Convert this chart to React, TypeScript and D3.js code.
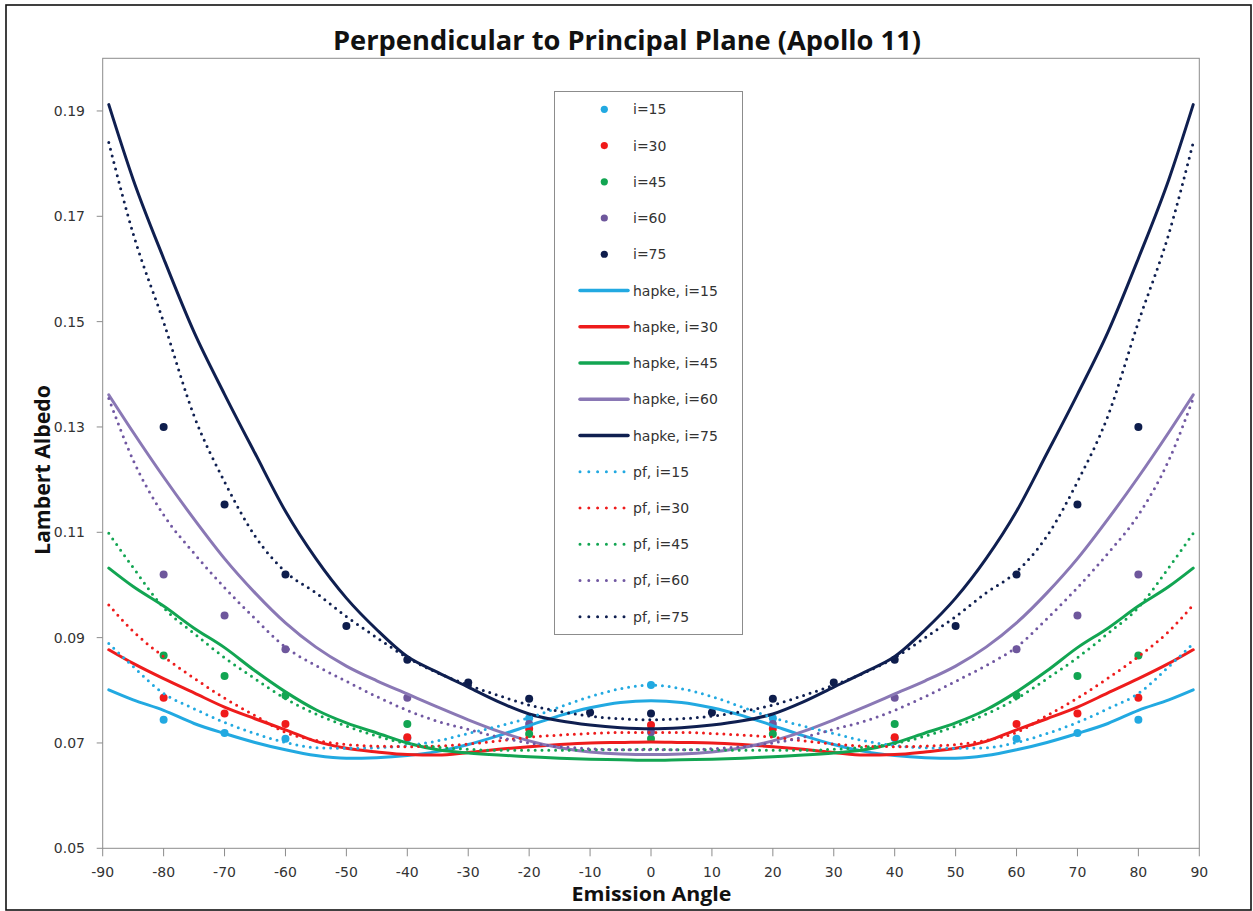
import React from "react";
import * as d3 from "d3";

// ---------- data ----------
const incidences = ["15", "30", "45", "60", "75"];

const curveAngles = [-89, -85, -80, -75, -70, -65, -60, -55, -50, -45, -40, -35, -30, -25, -20, -15, -10, -5, 0,
  5, 10, 15, 20, 25, 30, 35, 40, 45, 50, 55, 60, 65, 70, 75, 80, 85, 89];

const hapke15 = [0.0801, 0.0782, 0.0762, 0.0737, 0.0718, 0.0701, 0.0687, 0.0676, 0.0671, 0.0672, 0.0676, 0.0684, 0.0697, 0.0714, 0.0733, 0.0752, 0.0767, 0.0777, 0.0780,
  0.0777, 0.0767, 0.0752, 0.0733, 0.0714, 0.0697, 0.0684, 0.0676, 0.0672, 0.0671, 0.0676, 0.0687, 0.0701, 0.0718, 0.0737, 0.0762, 0.0782, 0.0801];
const hapke30 = [0.0877, 0.0851, 0.0822, 0.0795, 0.0768, 0.0746, 0.0725, 0.0703, 0.0690, 0.0683, 0.0678, 0.0677, 0.0682, 0.0688, 0.0693, 0.0697, 0.0700, 0.0701, 0.0702,
  0.0701, 0.0700, 0.0697, 0.0693, 0.0688, 0.0682, 0.0677, 0.0678, 0.0683, 0.0690, 0.0703, 0.0725, 0.0746, 0.0768, 0.0795, 0.0822, 0.0851, 0.0877];
const hapke45 = [0.1032, 0.0997, 0.0960, 0.0918, 0.0881, 0.0837, 0.0797, 0.0763, 0.0738, 0.0719, 0.0700, 0.0687, 0.0681, 0.0677, 0.0674, 0.0671, 0.0669, 0.0668, 0.0667,
  0.0668, 0.0669, 0.0671, 0.0674, 0.0677, 0.0681, 0.0687, 0.0700, 0.0719, 0.0738, 0.0763, 0.0797, 0.0837, 0.0881, 0.0918, 0.0960, 0.0997, 0.1032];
const hapke60 = [0.1361, 0.1290, 0.1205, 0.1125, 0.1050, 0.0985, 0.0928, 0.0882, 0.0846, 0.0818, 0.0793, 0.0768, 0.0744, 0.0722, 0.0704, 0.0691, 0.0683, 0.0679, 0.0678,
  0.0679, 0.0683, 0.0691, 0.0704, 0.0722, 0.0744, 0.0768, 0.0793, 0.0818, 0.0846, 0.0882, 0.0928, 0.0985, 0.1050, 0.1125, 0.1205, 0.1290, 0.1361];
const hapke75 = [0.1912, 0.1770, 0.1620, 0.1480, 0.1362, 0.1250, 0.1140, 0.1050, 0.0975, 0.0915, 0.0864, 0.0834, 0.0806, 0.0778, 0.0755, 0.0742, 0.0734, 0.0729, 0.0727,
  0.0729, 0.0734, 0.0742, 0.0755, 0.0778, 0.0806, 0.0834, 0.0864, 0.0915, 0.0975, 0.1050, 0.1140, 0.1250, 0.1362, 0.1480, 0.1620, 0.1770, 0.1912];

const pf15 = [0.0889, 0.0845, 0.0794, 0.0765, 0.0739, 0.0718, 0.0701, 0.0691, 0.0690, 0.0691, 0.0695, 0.0704, 0.0718, 0.0732, 0.0748, 0.0768, 0.0788, 0.0803, 0.0810,
  0.0803, 0.0788, 0.0768, 0.0748, 0.0732, 0.0718, 0.0704, 0.0695, 0.0691, 0.0690, 0.0691, 0.0701, 0.0718, 0.0739, 0.0765, 0.0794, 0.0845, 0.0889];
const pf30 = [0.0962, 0.0912, 0.0864, 0.0823, 0.0785, 0.0752, 0.0720, 0.0705, 0.0697, 0.0694, 0.0693, 0.0694, 0.0698, 0.0704, 0.0711, 0.0715, 0.0718, 0.0720, 0.0720,
  0.0720, 0.0718, 0.0715, 0.0711, 0.0704, 0.0698, 0.0694, 0.0693, 0.0694, 0.0697, 0.0705, 0.0720, 0.0752, 0.0785, 0.0823, 0.0864, 0.0912, 0.0962];
const pf45 = [0.1098, 0.1033, 0.0957, 0.0908, 0.0862, 0.0822, 0.0784, 0.0755, 0.0732, 0.0713, 0.0699, 0.0692, 0.0688, 0.0686, 0.0686, 0.0686, 0.0687, 0.0687, 0.0688,
  0.0687, 0.0687, 0.0686, 0.0686, 0.0686, 0.0688, 0.0692, 0.0699, 0.0713, 0.0732, 0.0755, 0.0784, 0.0822, 0.0862, 0.0908, 0.0957, 0.1033, 0.1098];
const pf60 = [0.1354, 0.1237, 0.1133, 0.1060, 0.0995, 0.0936, 0.0882, 0.0847, 0.0817, 0.0788, 0.0762, 0.0741, 0.0726, 0.0711, 0.0700, 0.0693, 0.0689, 0.0687, 0.0687,
  0.0687, 0.0689, 0.0693, 0.0700, 0.0711, 0.0726, 0.0741, 0.0762, 0.0788, 0.0817, 0.0847, 0.0882, 0.0936, 0.0995, 0.1060, 0.1133, 0.1237, 0.1354];
const pf75 = [0.1840, 0.1667, 0.1499, 0.1321, 0.1196, 0.1093, 0.1025, 0.0985, 0.0940, 0.0900, 0.0862, 0.0833, 0.0810, 0.0790, 0.0772, 0.0760, 0.0751, 0.0746, 0.0744,
  0.0746, 0.0751, 0.0760, 0.0772, 0.0790, 0.0810, 0.0833, 0.0862, 0.0900, 0.0940, 0.0985, 0.1025, 0.1093, 0.1196, 0.1321, 0.1499, 0.1667, 0.1840];

const pointAngles = [-80, -70, -60, -40, -20, 0, 20, 40, 60, 70, 80];
const obs15 = [0.0744, 0.0719, 0.0708, 0.0709, 0.0747, 0.0810, 0.0747, 0.0709, 0.0708, 0.0719, 0.0744];
const obs30 = [0.0786, 0.0756, 0.0736, 0.0711, 0.0727, 0.0734, 0.0727, 0.0711, 0.0736, 0.0756, 0.0786];
const obs45 = [0.0866, 0.0827, 0.0790, 0.0736, 0.0717, 0.0708, 0.0717, 0.0736, 0.0790, 0.0827, 0.0866];
const obs60 = [0.1020, 0.0942, 0.0878, 0.0786, 0.0736, 0.0721, 0.0736, 0.0786, 0.0878, 0.0942, 0.1020];
const pointAngles75 = [-80, -70, -60, -50, -40, -30, -20, -10, 0, 10, 20, 30, 40, 50, 60, 70, 80];
const obs75 = [0.1300, 0.1153, 0.1020, 0.0922, 0.0858, 0.0815, 0.0784, 0.0758, 0.0756, 0.0758, 0.0784, 0.0815, 0.0858, 0.0922, 0.1020, 0.1153, 0.1300];

const xTicks = [-90, -80, -70, -60, -50, -40, -30, -20, -10, 0, 10, 20, 30, 40, 50, 60, 70, 80, 90];
const yTicks = [0.05, 0.07, 0.09, 0.11, 0.13, 0.15, 0.17, 0.19];

const pointColors = ["#22A9E1", "#F01A1A", "#12A552", "#6E579C", "#0E1D4C"];
const hapkeColors = ["#22A9E1", "#EE1C1C", "#12A552", "#8A78B5", "#0F1F50"];
const pfColors = ["#22A9E1", "#EE1C1C", "#12A552", "#7158A2", "#0F1F50"];

// ---------- layout ----------
const W = 1253, H = 911;
const plot = { left: 102.7, right: 1199.3, top: 58.3, bottom: 848.3 };
const x = d3.scaleLinear().domain([-90, 90]).range([plot.left, plot.right]);
const y = d3.scaleLinear().domain([0.05, 0.2]).range([plot.bottom, plot.top]);

const line = d3.line<[number, number]>()
  .x((d) => x(d[0]))
  .y((d) => y(d[1]))
  .curve(d3.curveMonotoneX);

const hapkeSeries = [hapke15, hapke30, hapke45, hapke60, hapke75];
const pfSeries = [pf15, pf30, pf45, pf60, pf75];
const obsSeries = [
  { ang: pointAngles, v: obs15 },
  { ang: pointAngles, v: obs30 },
  { ang: pointAngles, v: obs45 },
  { ang: pointAngles, v: obs60 },
  { ang: pointAngles75, v: obs75 },
];

const tickFont = "'DejaVu Sans', sans-serif";
const titleFont = "'Open Sans', 'DejaVu Sans', sans-serif";

export default function App() {
  const legendItems: { kind: string; color: string; label: string }[] = [];
  incidences.forEach((inc, i) => legendItems.push({ kind: "pt", color: pointColors[i], label: `i=${inc}` }));
  incidences.forEach((inc, i) => legendItems.push({ kind: "hapke", color: hapkeColors[i], label: `hapke, i=${inc}` }));
  incidences.forEach((inc, i) => legendItems.push({ kind: "pf", color: pfColors[i], label: `pf, i=${inc}` }));
  const legY0 = 109.3, legStep = 36.24;

  return (
    <svg width={W} height={H} style={{ position: "absolute", left: 0, top: 0, display: "block", background: "#fff" }}>
      <rect x={0} y={0} width={W} height={H} fill="#fff" />
      <rect x={6} y={5} width={1245} height={905} fill="none" stroke="#111" strokeWidth={1.6} />

      {/* title */}
      <text x={627} y={50} textAnchor="middle" fontFamily={titleFont} fontWeight={700} fontSize={26}
        textLength={588} lengthAdjust="spacingAndGlyphs" fill="#111">
        Perpendicular to Principal Plane (Apollo 11)
      </text>

      {/* plot frame */}
      <rect x={plot.left} y={plot.top} width={plot.right - plot.left} height={plot.bottom - plot.top}
        fill="none" stroke="#8c8c8c" strokeWidth={1} />

      {/* y axis ticks */}
      {yTicks.map((t) => (
        <g key={"y" + t}>
          <line x1={plot.left - 6} x2={plot.left} y1={y(t)} y2={y(t)} stroke="#8c8c8c" />
          <text x={85} y={y(t)} dy="0.36em" textAnchor="end" fontFamily={tickFont} fontSize={14} fill="#333">
            {t.toFixed(2)}
          </text>
        </g>
      ))}
      {/* x axis ticks */}
      {xTicks.map((t) => (
        <g key={"x" + t}>
          <line x1={x(t)} x2={x(t)} y1={plot.bottom} y2={plot.bottom + 8} stroke="#8c8c8c" />
          <text x={x(t)} y={876.5} textAnchor="middle" fontFamily={tickFont} fontSize={14} fill="#333">
            {t}
          </text>
        </g>
      ))}

      {/* axis titles */}
      <text x={651.5} y={901} textAnchor="middle" fontFamily={titleFont} fontWeight={700} fontSize={20}
        textLength={160} lengthAdjust="spacingAndGlyphs" fill="#111">
        Emission Angle
      </text>
      <text transform="translate(50,470) rotate(-90)" textAnchor="middle" fontFamily={titleFont} fontWeight={700}
        fontSize={21} textLength={170} lengthAdjust="spacingAndGlyphs" fill="#111">
        Lambert Albedo
      </text>

      {/* observed points */}
      {obsSeries.map((s, i) => (
        <g key={"obs" + i} fill={pointColors[i]}>
          {s.ang.map((a, k) => (
            <circle key={k} cx={x(a)} cy={y(s.v[k])} r={4} />
          ))}
        </g>
      ))}

      {/* hapke model lines */}
      {hapkeSeries.map((vals, i) => (
        <path key={"h" + i} d={line(curveAngles.map((a, k) => [a, vals[k]] as [number, number])) || ""}
          fill="none" stroke={hapkeColors[i]} strokeWidth={3} strokeLinejoin="round" strokeLinecap="round" />
      ))}

      {/* pf model lines */}
      {pfSeries.map((vals, i) => (
        <path key={"p" + i} d={line(curveAngles.map((a, k) => [a, vals[k]] as [number, number])) || ""}
          fill="none" stroke={pfColors[i]} strokeWidth={3} strokeDasharray="0 6.8" strokeLinecap="round" />
      ))}

      {/* legend */}
      <rect x={554.5} y={91.5} width={188} height={543} fill="#fff" stroke="#8c8c8c" strokeWidth={1} />
      {legendItems.map((it, k) => {
        const ly = legY0 + k * legStep;
        return (
          <g key={"leg" + k}>
            {it.kind === "pt" && <circle cx={604.3} cy={ly} r={3.6} fill={it.color} />}
            {it.kind === "hapke" && (
              <line x1={580} x2={628} y1={ly} y2={ly} stroke={it.color} strokeWidth={3.5} strokeLinecap="round" />
            )}
            {it.kind === "pf" && (
              <line x1={580} x2={624.5} y1={ly} y2={ly} stroke={it.color} strokeWidth={3} strokeDasharray="0 8.8"
                strokeLinecap="round" />
            )}
            <text x={633} y={ly} dy="0.36em" fontFamily={tickFont} fontSize={14} fill="#333">
              {it.label}
            </text>
          </g>
        );
      })}
    </svg>
  );
}
